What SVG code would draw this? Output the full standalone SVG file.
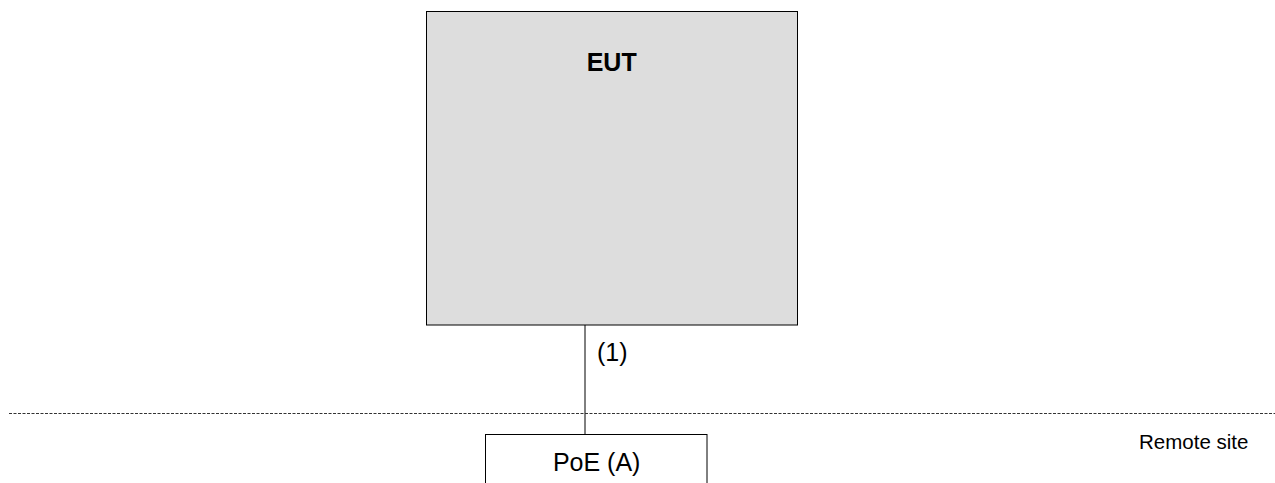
<svg xmlns="http://www.w3.org/2000/svg" width="1275" height="483" viewBox="0 0 1275 483">
<style>
.box{stroke:#000;stroke-width:1}
.t{font-family:"Liberation Sans",Arial,sans-serif;fill:#000}
</style>
<rect width="1275" height="483" fill="#fff"/>
<g id="connectors">
<line x1="585" y1="325" x2="585" y2="434" stroke="#000" stroke-width="1"/>
<line x1="9" y1="413.5" x2="1275" y2="413.5" stroke="#333" stroke-width="1" stroke-dasharray="3,1.5"/>
</g>
<g id="eut">
<rect class="box" x="426.5" y="11.5" width="371" height="313.5" fill="#dddddd"/>
<text class="t" x="611.7" y="70.5" font-size="25" font-weight="bold" text-anchor="middle">EUT</text>
</g>
<text class="t" x="597" y="361" font-size="25">(1)</text>
<g id="poe">
<rect class="box" x="485.5" y="434.5" width="221.5" height="60" fill="#fff"/>
<text class="t" x="596.7" y="470.5" font-size="25" text-anchor="middle">PoE (A)</text>
</g>
<text class="t" x="1139" y="448.5" font-size="20.5">Remote site</text>
</svg>
